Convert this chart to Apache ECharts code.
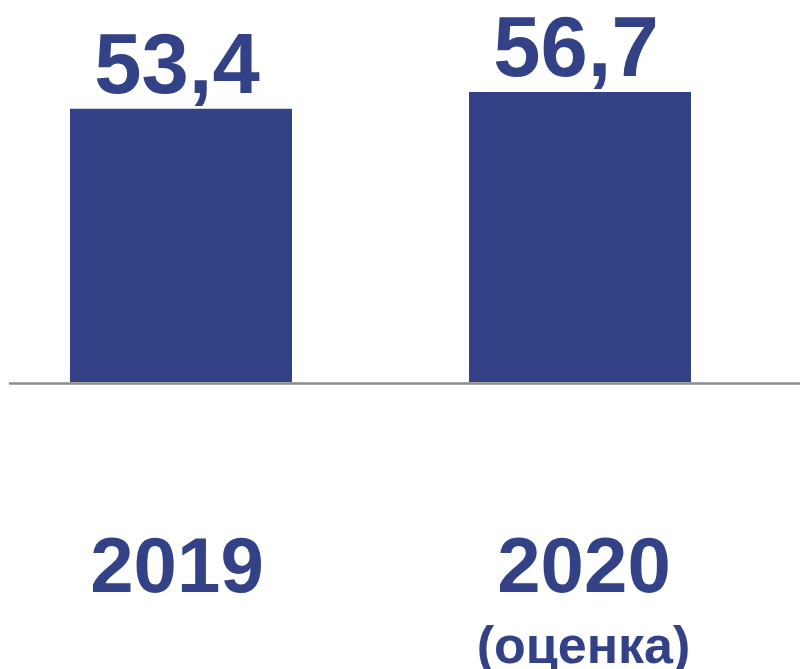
<!DOCTYPE html>
<html>
<head>
<meta charset="utf-8">
<script src="https://cdn.jsdelivr.net/npm/echarts@6/dist/echarts.min.js"></script>
<style>
  html, body { margin: 0; padding: 0; background: #fff; }
  #chart { width: 800px; height: 669px; }
</style>
</head>
<body>
<div id="chart"></div>
<script>
// data
const categories = ['2019', '2020'];
const values = [53.4, 56.7];
const notes = ['', '(оценка)'];

const blue = '#334286';
const font = '"Liberation Sans", Arial, sans-serif';

let myChart = echarts.init(document.getElementById('chart'));
myChart.setOption({
  backgroundColor: '#fff',
  animation: false,
  grid: [
    // bars
    { left: -18.5, right: 20.5, top: 75, bottom: 287, outerBoundsMode: 'none', containLabel: false },
    // baseline only
    { left: 10, right: 0, top: 75, bottom: 286, outerBoundsMode: 'none' }
  ],
  xAxis: [
    {
      type: 'category',
      gridIndex: 0,
      data: categories,
      axisLine: { show: false },
      axisTick: { show: false },
      axisLabel: {
        margin: 148,
        formatter: function (v, i) {
          // first label sits a little left, second a little right in the original
          return notes[i]
            ? '{c|' + v + '}\n{d|' + notes[i] + '}'
            : '{a|' + v + '}';
        },
        rich: {
          a: { fontSize: 78, fontWeight: 'bold', fontFamily: font, color: blue, lineHeight: 80, padding: [0, 8, 0, 0] },
          c: { fontSize: 78, fontWeight: 'bold', fontFamily: font, color: blue, lineHeight: 80, padding: [0, 0, 0, 8] },
          d: { fontSize: 52, fontWeight: 'bold', fontFamily: font, color: blue, lineHeight: 78, padding: [0, 0, 0, 7] }
        }
      }
    },
    {
      type: 'value',
      gridIndex: 1,
      axisLine: { show: true, onZero: false, lineStyle: { color: '#8c8c8c', width: 2.5 } },
      axisTick: { show: false },
      axisLabel: { show: false },
      splitLine: { show: false }
    }
  ],
  yAxis: [
    { type: 'value', gridIndex: 0, min: 0, max: 60, show: false, splitLine: { show: false } },
    { type: 'value', gridIndex: 1, show: false, splitLine: { show: false } }
  ],
  series: [
    {
      type: 'bar',
      xAxisIndex: 0,
      yAxisIndex: 0,
      data: values,
      barWidth: 222,
      itemStyle: { color: blue },
      label: {
        show: true,
        position: 'top',
        distance: 0,
        offset: [-4, 3],
        fontSize: 85,
        fontWeight: 'bold',
        fontFamily: font,
        color: blue,
        formatter: function (p) { return String(p.value).replace('.', ','); }
      }
    }
  ]
});
</script>
</body>
</html>
